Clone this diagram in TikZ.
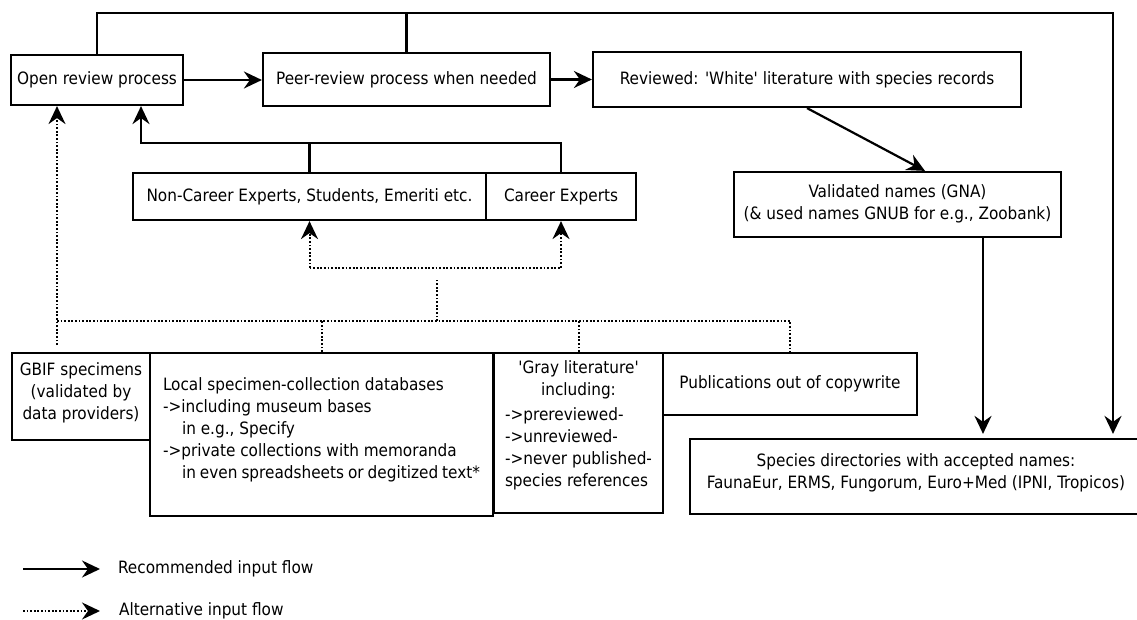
\documentclass[tikz,border=0pt]{standalone}
\usepackage{fontspec}
\setmainfont{DejaVu Sans Condensed}
\usetikzlibrary{arrows.meta}
% shift a block up inside its box by giving it extra depth
\newcommand\liftup[2]{\raisebox{0pt}[\height][\dimexpr\depth+#1\relax]{#2}}
\begin{document}
\begin{tikzpicture}[x=1pt,y=-1pt,line width=2.2pt,
  box/.style={draw,line width=2.2pt,inner sep=0pt,font=\fontsize{17}{22}\selectfont},
  lbl/.style={inner sep=0pt,font=\fontsize{17}{22}\selectfont},
  tip/.style={-{Stealth[length=18pt,width=17pt,inset=6pt]}},
  alt/.style={dash pattern=on 1.8pt off 1.8pt,line width=2pt}]
\useasboundingbox (0,0) rectangle (1137,620);

% review chain
\node[box,minimum width=172,minimum height=50] (open) at (97,80) {Open review process};
\node[box,minimum width=287,minimum height=53] (peer) at (406.5,79.5) {Peer-review process when needed};
\node[box,minimum width=428,minimum height=55] (rev) at (807,79.5)
  {Reviewed: \textquotesingle White\textquotesingle{} literature with species records};

% experts
\node[box,minimum width=353,minimum height=47] (noncar) at (309.5,196.5)
  {Non-Career Experts, Students, Emeriti etc.};
\node[box,minimum width=150,minimum height=47] (car) at (561,196.5) {Career Experts};

% names
\node[box,minimum width=327,minimum height=65] (valid) at (897.5,204.5)
  {\begin{tabular}{@{}c@{}}Validated names (GNA)\\(\& used names GNUB for e.g., Zoobank)\end{tabular}};
\node[box,minimum width=452,minimum height=75] (spec) at (916,476.5)
  {\liftup{6pt}{\begin{tabular}{@{}c@{}}Species directories with accepted names:\\FaunaEur, ERMS, Fungorum, Euro+Med (IPNI, Tropicos)\end{tabular}}};

% sources
\node[box,minimum width=138,minimum height=87] (gbif) at (81,396.5)
  {\liftup{7pt}{\begin{tabular}{@{}c@{}}GBIF specimens\\(validated by\\data providers)\end{tabular}}};
\node[box,minimum width=343,minimum height=163] (local) at (321.5,434.5)
  {\liftup{9pt}{\begin{tabular}{@{}p{317pt}@{}}Local specimen-collection databases\\
   ->including museum bases\\\hspace{19pt}in e.g., Specify\\
   ->private collections with memoranda\\\hspace{19pt}in even spreadsheets or degitized text*\end{tabular}}};
\node[box,minimum width=169,minimum height=160] (gray) at (578.5,433)
  {\liftup{14pt}{\begin{tabular}{@{}l@{}}
   \multicolumn{1}{@{}c@{}}{\textquotesingle Gray literature\textquotesingle}\\
   \multicolumn{1}{@{}c@{}}{including:}\\[3pt]
   ->prereviewed-\\->unreviewed-\\->never published-\\species references\end{tabular}}};
\node[box,minimum width=254,minimum height=62] (pubs) at (790,384) {Publications out of copywrite};

% recommended flow
\draw[tip] (open.east) -- (open.east -| peer.west);
\draw[tip] (peer.east) -- (peer.east -| rev.west);
\draw[tip] (rev.south) -- ([xshift=27.5]valid.north);
\coordinate (vx) at ([xshift=85.5]valid.south);
\draw[tip] (vx) -- ([yshift=4]vx |- spec.north);
\coordinate (top) at (1113,13);
\draw[tip] (open.north) |- (top) -- ([yshift=4]top |- spec.north);
\draw (peer.north) -- (peer.north |- top);
\coordinate (ej) at (141,143);
\draw[tip] (car.north) |- (ej) -- (ej |- open.south);
\draw (noncar.north) -- (noncar.north |- ej);

% alternative flow
\coordinate (bus) at (57,321);
\coordinate (gb) at (57,345);
\draw[alt,tip] (gb) -- (gb |- open.south);
\draw[alt] (bus) -| (pubs.north);
\draw[alt] (local.north) -- (local.north |- bus);
\draw[alt] (gray.north) -- (gray.north |- bus);
\coordinate (fk) at (437,280);
\draw[alt] (fk |- bus) -- (fk);
\coordinate (fy) at (0,268);
\draw[alt,tip] (noncar.south |- fy) -- (noncar.south);
\draw[alt,tip] (noncar.south |- fy) -- (car.south |- fy) -- (car.south);

% legend
\node[lbl,anchor=west] (l1) at (117,569) {Recommended input flow};
\node[lbl,anchor=west] (l2) at (118,611) {Alternative input flow};
\coordinate (l1a) at (23,569);
\coordinate (l2a) at (23,611);
\draw[tip] (l1a) -- ([xshift=-17]l1.west);
\draw[alt,tip] (l2a) -- ([xshift=-18]l2.west);
\end{tikzpicture}
\end{document}
